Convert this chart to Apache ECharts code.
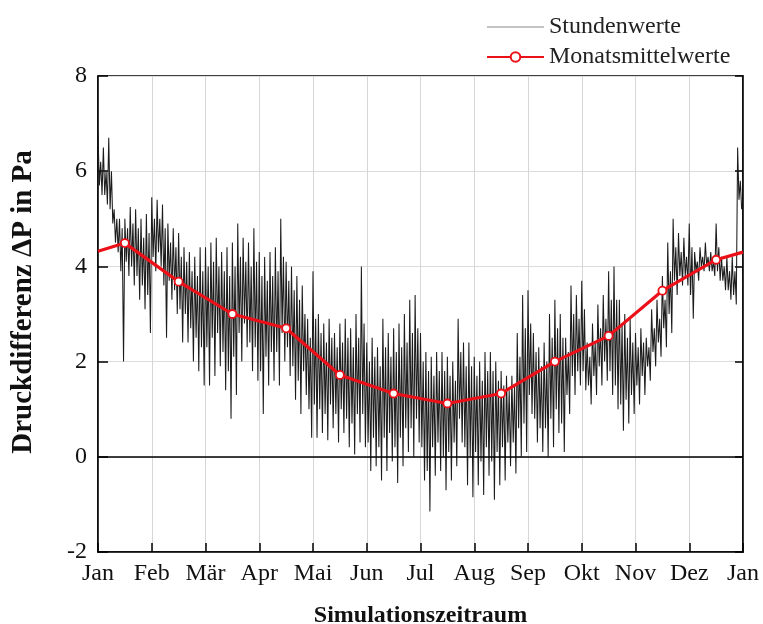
<!DOCTYPE html>
<html>
<head>
<meta charset="utf-8">
<script src="https://cdn.jsdelivr.net/npm/echarts@6/dist/echarts.min.js"></script>
<style>
html,body{margin:0;padding:0;background:#fff;}
#chart{width:763px;height:624px;}
</style>
</head>
<body>
<div id="chart"></div>
<script>
// x-axis tick labels (month boundaries)
const monthLabels = ['Jan','Feb','Mär','Apr','Mai','Jun','Jul','Aug','Sep','Okt','Nov','Dez','Jan'];
// monthly mean values (mid-month)
const monthlyMeans = [4.49, 3.68, 3.00, 2.70, 1.72, 1.33, 1.12, 1.33, 2.00, 2.54, 3.49, 4.14];
// mean-line values at start / end of year
const yearEdgeMeans = [4.32, 4.30];
// hourly values, every 0.1 month: extreme swings ...
const hourlyHigh = [
  6.8,6.5,6.7,5.2,5.0,5.0,5.25,5.2,5.0,5.1,
  5.45,5.4,5.3,4.9,4.8,4.7,4.4,4.3,4.2,4.4,
  4.4,4.5,4.6,4.3,4.4,4.5,4.9,4.6,4.5,4.8,
  4.3,4.2,4.3,4.4,5.0,4.1,4.0,3.8,3.6,2.9,
  3.9,3.0,2.8,2.9,2.6,2.8,2.9,2.7,3.0,4.0,
  2.4,2.5,2.3,2.9,2.6,2.7,2.8,3.0,3.3,3.4,
  2.6,2.2,2.1,2.2,2.2,2.1,2.0,2.9,2.4,2.4,
  2.1,2.0,2.2,2.2,2.0,1.8,1.7,1.7,2.6,3.4,
  3.5,2.6,2.3,2.4,3.0,3.3,3.0,2.5,3.6,3.4,
  3.7,2.4,2.8,3.2,3.4,3.9,4.0,3.3,3.0,2.9,
  2.6,2.7,2.5,3.1,3.3,3.8,4.5,5.0,4.7,4.6,
  4.9,4.3,4.4,4.5,4.3,4.9,4.2,4.2,4.2,6.5
];
const hourlyLow = [
  5.5,5.3,4.9,4.3,2.0,3.8,3.6,3.3,3.1,2.6,
  3.9,4.0,2.5,3.3,3.0,2.4,2.4,2.0,1.8,1.5,
  1.5,1.7,1.9,1.4,0.8,1.3,2.0,2.3,1.8,1.6,
  0.9,1.5,1.6,1.5,2.0,1.7,1.2,0.9,1.3,0.4,
  0.4,0.5,0.35,0.6,0.3,0.5,0.2,0.05,0.3,0.2,
  -0.3,-0.2,-0.5,-0.3,-0.1,-0.55,-0.2,0.1,0.0,0.3,
  -0.5,-1.15,-0.4,-0.3,-0.7,-0.5,-0.2,0.3,-0.6,-0.85,
  -0.6,-0.8,-0.4,-0.9,-0.6,-0.5,-0.2,-0.35,0.0,0.1,
  0.9,0.3,0.1,0.0,0.2,0.5,0.1,0.9,1.3,1.5,
  1.4,1.1,1.3,1.5,1.6,1.3,1.0,0.55,0.7,0.9,
  1.1,1.3,1.6,1.9,2.1,2.3,2.6,3.4,3.6,3.6,
  2.9,3.7,3.9,3.9,3.8,3.7,3.5,3.3,3.2,5.2
];
// ... and the dense core of the hourly band
const coreHigh = [
  6.2,6.0,6.0,5.0,4.8,4.8,4.9,4.8,4.6,4.7,
  5.0,5.0,4.8,4.5,4.4,4.2,4.1,3.9,3.8,3.9,
  4.0,4.1,4.0,3.9,3.8,4.0,4.2,4.1,4.0,4.1,
  3.8,3.7,3.8,3.9,4.2,3.7,3.5,3.3,3.0,2.5,
  2.9,2.6,2.4,2.5,2.3,2.4,2.5,2.3,2.5,2.8,
  2.0,2.1,1.9,2.3,2.1,2.2,2.3,2.4,2.6,2.7,
  2.0,1.8,1.7,1.8,1.8,1.7,1.6,2.2,1.9,1.9,
  1.7,1.6,1.8,1.8,1.6,1.5,1.4,1.5,2.1,2.7,
  2.8,2.2,1.9,2.0,2.5,2.7,2.5,2.2,3.0,2.9,
  3.1,2.1,2.4,2.7,2.9,3.3,3.3,2.8,2.5,2.4,
  2.3,2.4,2.3,2.7,2.9,3.3,3.9,4.4,4.3,4.2,
  4.4,4.1,4.2,4.2,4.1,4.4,4.0,3.9,3.9,5.8
];
const coreLow = [
  5.7,5.5,5.2,4.5,3.9,4.1,4.0,3.8,3.6,3.4,
  4.2,4.3,3.6,3.7,3.5,3.1,3.0,2.7,2.5,2.3,
  2.3,2.5,2.6,2.2,1.8,2.1,2.6,2.8,2.4,2.3,
  1.8,2.1,2.2,2.2,2.6,2.3,1.9,1.6,1.8,1.0,
  1.1,1.0,0.9,1.1,0.9,1.0,0.8,0.7,0.9,0.9,
  0.3,0.4,0.2,0.4,0.5,0.2,0.4,0.6,0.6,0.8,
  0.2,-0.3,0.2,0.3,0.0,0.1,0.3,0.8,0.2,0.0,
  0.1,-0.1,0.2,-0.1,0.1,0.2,0.3,0.3,0.6,0.7,
  1.3,0.8,0.6,0.6,0.8,1.0,0.7,1.3,1.7,1.8,
  1.8,1.5,1.7,1.9,2.0,1.8,1.5,1.1,1.2,1.3,
  1.5,1.7,1.9,2.2,2.4,2.7,3.0,3.7,3.8,3.8,
  3.4,3.9,4.0,4.0,3.9,3.9,3.7,3.5,3.4,5.4
];

const FONT = 'Liberation Serif, Times New Roman, serif';
const RED = '#ec1018';

const hourlyData = [];
for (let k = 0; k < hourlyHigh.length; k++) {
  const t = k * 0.1;
  hourlyData.push([t, hourlyHigh[k]]);
  hourlyData.push([t + 0.025, coreLow[k]]);
  hourlyData.push([t + 0.05, coreHigh[k]]);
  hourlyData.push([t + 0.075, hourlyLow[k]]);
}
const meanData = [{value: [0, yearEdgeMeans[0]], symbol: 'none'}];
monthlyMeans.forEach((v, i) => meanData.push([i + 0.5, v]));
meanData.push({value: [12, yearEdgeMeans[1]], symbol: 'none'});

const chart = echarts.init(document.getElementById('chart'), null, {renderer: 'canvas'});
chart.setOption({
  animation: false,
  backgroundColor: '#fff',
  legend: {
    orient: 'vertical',
    left: 481,
    top: 10,
    itemWidth: 57,
    itemHeight: 12,
    itemGap: 6,
    textStyle: {fontFamily: FONT, fontSize: 24, color: '#222'},
    data: [
      {name: 'Stundenwerte', lineStyle: {color: '#8a8a8a', width: 1.2}, itemStyle: {opacity: 0}},
      {name: 'Monatsmittelwerte'}
    ]
  },
  grid: {left: 98, right: 20, top: 76, bottom: 72, show: true, borderColor: '#000', borderWidth: 1.5,
         containLabel: false, outerBoundsMode: 'none'},
  xAxis: {
    type: 'value', min: 0, max: 12, interval: 1,
    axisLine: {show: true, onZero: false, lineStyle: {color: '#000', width: 1.5}},
    axisTick: {show: true, inside: true, length: 9, lineStyle: {color: '#000', width: 1.5}},
    axisLabel: {formatter: v => monthLabels[Math.round(v)], fontFamily: FONT, fontSize: 24, color: '#111', margin: 10},
    splitLine: {show: true, lineStyle: {color: '#d6d6d6', width: 1}},
    name: 'Simulationszeitraum', nameLocation: 'middle', nameGap: 52,
    nameTextStyle: {fontFamily: FONT, fontWeight: 'bold', fontSize: 24, color: '#111'}
  },
  yAxis: [{
    type: 'value', min: -2, max: 8, interval: 2,
    axisLine: {show: true, onZero: false, lineStyle: {color: '#000', width: 1.5}},
    axisTick: {show: true, inside: true, length: 10, lineStyle: {color: '#000', width: 1.5}},
    axisLabel: {fontFamily: FONT, fontSize: 24, color: '#111', margin: 11},
    splitLine: {show: true, lineStyle: {color: '#dcdcdc', width: 1}},
    name: 'Druckdifferenz ΔP in Pa', nameLocation: 'middle', nameGap: 60,
    nameTextStyle: {fontFamily: FONT, fontWeight: 'bold', fontSize: 29, color: '#111', padding: [0, 0, 0, 24]}
  }, {
    type: 'value', min: -2, max: 8, interval: 2, position: 'right',
    axisLine: {show: true, onZero: false, lineStyle: {color: '#000', width: 1.5}},
    axisTick: {show: true, inside: true, length: 8, lineStyle: {color: '#000', width: 1.5}},
    axisLabel: {show: false},
    splitLine: {show: false}
  }],
  series: [{
    name: 'Stundenwerte',
    type: 'line',
    data: hourlyData,
    symbol: 'none',
    showSymbol: false,
    lineStyle: {color: '#1c1c1c', width: 1.05},
    itemStyle: {color: '#1c1c1c'},
    z: 2,
    markLine: {
      silent: true, symbol: 'none', label: {show: false},
      lineStyle: {color: '#000', width: 1.5, type: 'solid'},
      data: [{yAxis: 0}]
    }
  }, {
    name: 'Monatsmittelwerte',
    type: 'line',
    data: meanData,
    symbol: 'circle',
    symbolSize: 8,
    lineStyle: {color: RED, width: 3.2},
    itemStyle: {color: '#fff', borderColor: RED, borderWidth: 1.8},
    z: 5
  }]
});
</script>
</body>
</html>
